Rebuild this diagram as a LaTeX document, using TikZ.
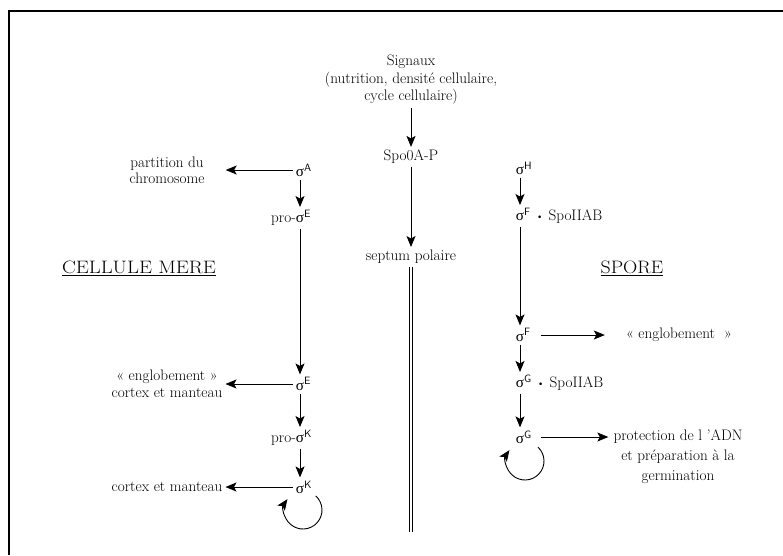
\documentclass[tikz,border=0pt]{standalone}
\usepackage{fontspec}
\usepackage{graphicx}
\newfontfamily\grk{Liberation Serif}
\usetikzlibrary{arrows.meta}
\newcommand{\sig}[1]{{\grk σ}\rlap{\textsuperscript{\sffamily #1}}}
\newcommand{\dotb}{\raisebox{0.05ex}{\scalebox{0.8}{\textbullet}}}
\begin{document}
\begin{tikzpicture}[x=1pt,y=-1pt]
\tikzset{
  txt/.style={inner sep=3pt, font=\fontsize{15.2}{17.5}\selectfont, align=center},
  ttl/.style={inner sep=0pt, font=\fontsize{18}{20}\selectfont},
  arr/.style={line width=0.9pt, -{Stealth[length=11pt,width=9pt,inset=2.5pt]}},
  dbl/.style={double, double distance=2pt, line width=0.6pt},
  frame/.style={line width=1.4pt}
}
\useasboundingbox (0,0) rectangle (783,555);
\draw[frame] (783,11) -- (9,11) -- (9,555);

% centre column
\node[txt] (sig) at (411,80) {Signaux\\(nutrition, densité cellulaire,\\cycle cellulaire)};
\node[txt] (spo) at (411,157) {Spo0A-P};
\node[txt] (sept) at (411,257) {septum polaire};
\coordinate (septEnd) at (411,532);
\draw[arr] (sig.south) -- (spo.north);
\draw[arr] (spo.south) -- (sept.north);
\draw[dbl] (sept.south) -- (septEnd);

% titles
\node[ttl] (mere) at (139,268) {\scalebox{1.15}[1]{\underline{CELLULE MERE}}};
\node[ttl] (spore) at (632,268) {\scalebox{1.1}[1]{\underline{SPORE}}};

% left column
\node[txt] (sA) at (300,170) {\sig{A}};
\node[txt, font=\fontsize{15.2}{16}\selectfont] (part) at (167,170) {partition du\\chromosome};
\node[txt] (proE) at (300,218) {\llap{pro-}\sig{E}};
\node[txt] (sE) at (300,384) {\sig{E}};
\node[txt] (eng1) at (167,384) {« englobement »\\cortex et manteau};
\node[txt] (proK) at (300,438) {\llap{pro-}\sig{K}};
\node[txt] (sK) at (300,487) {\sig{K}};
\node[txt] (cm) at (167,487) {cortex et manteau};
\coordinate (cK) at (303,510);

\draw[arr, shorten >=18pt] (sA.west) -- (part.east);
\draw[arr] (sA.south) -- (proE.north);
\draw[arr] (proE.south) -- (sE.north);
\draw[arr] (sE.west) -- (eng1.east);
\draw[arr] (sE.south) -- (proK.north);
\draw[arr] (proK.south) -- (sK.north);
\draw[arr] (sK.west) -- (cm.east);
\draw[arr] ([shift={(48:19pt)}]cK) arc[start angle=48, end angle=-215, radius=19pt];

% right column
\node[txt] (sH) at (520,168) {\sig{H}};
\node[txt] (sF1) at (520,216) {{\grk σ}\rlap{\textsuperscript{\sffamily F} \dotb{} SpoIIAB}};
\node[txt] (sF2) at (520,335) {\sig{F}};
\node[txt] (eng2) at (679,335) {« englobement ~»};
\node[txt] (sG1) at (520,383) {{\grk σ}\rlap{\textsuperscript{\sffamily G} \dotb{} SpoIIAB}};
\node[txt] (sG2) at (520,437) {\sig{G}};
\node[txt, font=\fontsize{15.2}{20}\selectfont] (prot) at (678,457) {protection de l ’ADN\\et préparation à la\\germination};
\coordinate (cG) at (525,461);

\draw[arr] (sH.south) -- (sF1.north);
\draw[arr] (sF1.south) -- (sF2.north);
\draw[arr, shorten <=14pt, shorten >=18pt] (sF2.east) -- (eng2.west);
\draw[arr] (sF2.south) -- (sG1.north);
\draw[arr] (sG1.south) -- (sG2.north);
\draw[arr, shorten <=14pt, shorten >=2pt] (sG2.east) -- (prot.west |- sG2.east);
\draw[arr] ([shift={(47:19pt)}]cG) arc[start angle=47, end angle=-215, radius=19pt];
\end{tikzpicture}
\end{document}
